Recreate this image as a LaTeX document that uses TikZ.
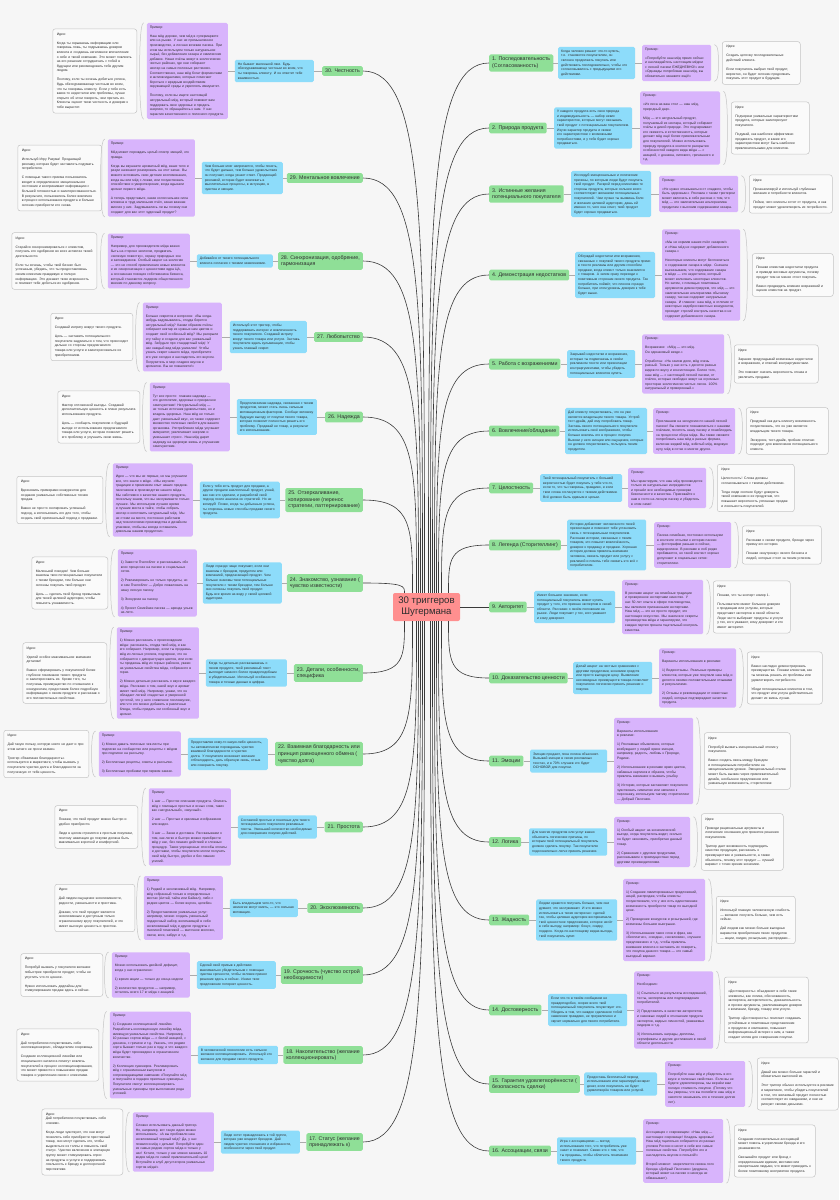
\documentclass[tikz,border=0pt]{standalone}
\usepackage{fontspec}
\setmainfont{Liberation Sans}
\usetikzlibrary{calc}
\definecolor{paper}{HTML}{F6F6F6}
\definecolor{ink}{HTML}{2E2E2E}
\definecolor{trunkink}{HTML}{3A3A3A}
\definecolor{linkgray}{HTML}{ABABAB}
\definecolor{hubred}{HTML}{FF8F8F}
\definecolor{topicgreen}{HTML}{8FDF97}
\definecolor{descblue}{HTML}{8DDCFA}
\definecolor{exviolet}{HTML}{D8B4FC}
\definecolor{ideafill}{HTML}{FAFAFA}
\definecolor{ideaedge}{HTML}{C4C4C4}
\newcommand{\RightX}{489}
\newcommand{\LeftX}{363}
\newcommand{\gapline}{\\[4.4pt]}

\begin{document}
\begin{tikzpicture}[
    x=1pt, y=-1pt, ink,
    font=\fontsize{3.4}{4.6}\selectfont,
    trunk/.style={line width=0.6pt, draw=trunkink},
    link/.style={line width=1pt, draw=linkgray},
    brk/.style={line width=0.5pt, draw=ideaedge},
    hub/.style={fill=hubred, rounded corners=2pt, minimum width=67pt, minimum height=28pt, inner sep=2pt, align=center, font=\fontsize{9.6}{11}\selectfont},
    topic/.style={fill=topicgreen, rounded corners=1.5pt, inner sep=3pt, align=left, font=\fontsize{5.3}{6.6}\selectfont},
    desc/.style={fill=descblue, rounded corners=1.5pt, inner sep=3pt, align=left, text width=#1pt},
    example/.style={fill=exviolet, rounded corners=1.5pt, inner sep=3pt, align=left, text width=#1pt},
    idea/.style={draw=ideaedge, line width=0.5pt, fill=ideafill, rounded corners=2.5pt, inner sep=4pt, align=left, text width=#1pt},
  ]
\useasboundingbox[fill=paper] (0,0) rectangle (839,1200);

% --- Centre ---------------------------------------------------------------------
\node[hub] (root) at (426.5, 607) {30 триггеров\\Шугермана};

% --- Right side: 1-16 -------------------------------------------------------------
\node[topic, anchor=west] (top1) at (\RightX, 63) {1. Последовательность\\(Согласованность)};
\node[desc=71, anchor=west] (des1) at (558, 63) {Когда человек решает что-то купить, т.е. становится покупателем, он склонен продолжать покупать или действовать последовательно, чтобы это согласовывалось с предыдущими его действиями.};
\node[example=63, anchor=west] (ex1) at (642, 63) {Пример:\gapline «Попробуйте наш мёд прямо сейчас и наслаждайтесь настоящим мёдом с лесной пасеки ЕЖЕДНЕВНО!» или «Однажды попробовав наш мёд, вы обязательно закажете ещё!»};
\node[idea=70, anchor=west] (idea1) at (722, 63) {Идея:\gapline Создать цепочку последовательных действий клиента.\gapline Если покупатель выбрал твой продукт, вероятно, он будет склонен продолжать покупать этот продукт в будущем.};

\node[topic, anchor=west] (top2) at (\RightX, 128) {2. Природа продукта};
\node[desc=72, anchor=west] (des2) at (554, 128) {У каждого продукта есть своя природа и индивидуальность — набор неких характеристик, которые могут связывать твой продукт с потенциальным покупателем. Изучи характер продукта и свяжи его характеристики с возможными потребностями, и у тебя будет хорошо продаваться.};
\node[example=74, anchor=west] (ex2) at (640, 128) {Пример:\gapline «Из леса на ваш стол — наш мёд, природный дар».\gapline Мёд — это натуральный продукт, получаемый из нектара, который собирают пчёлы в дикой природе. Это подчеркивает его свежесть и естественность, которые делают мёд ещё более привлекательным для покупателей. Можно использовать природу продукта в контексте раскрытия особенностей каждого вида мёда — с акацией, с донника, липового, гречишного и т.д.};
\node[idea=70, anchor=west] (idea2) at (731, 128) {Идея:\gapline Подчеркни уникальные характеристики продукта, которые заинтересуют покупателя.\gapline Подумай, как наиболее эффективно продвигать продукт, и какие его характеристики могут быть наиболее привлекательными для клиентов.};

\node[topic, anchor=west] (top3) at (\RightX, 194) {3. Истинные желания\\потенциального покупателя};
\node[desc=74, anchor=west] (des3) at (571, 194) {Исследуй эмоциональные и логические причины, по которым люди будут покупать твой продукт. Раскрой перед клиентами те стороны продукта, которые сильнее всего соответствуют желаниям потенциальных покупателей. Чем лучше ты выявишь боли и желания целевой аудитории, дашь ей именно то, чего она хочет, твой продукт будет хорошо продаваться.};
\node[example=73, anchor=west] (ex3) at (659, 194) {Пример:\gapline «Не нужно отказываться от сладкого, чтобы быть здоровым.» Реклама с таким триггером может включать в себя рассказ о том, что мёд — это замечательная альтернатива продуктам с высоким содержанием сахара.};
\node[idea=75, anchor=west] (idea3) at (749, 194) {Идея:\gapline Проанализируй и используй глубинные желания и потребности клиентов.\gapline Пойми, чего клиенты хотят от продукта, и как продукт может удовлетворить их потребности.};

\node[topic, anchor=west] (top4) at (\RightX, 275) {4. Демонстрация недостатков};
\node[desc=74, anchor=west] (des4) at (575, 275) {Обсуждай недостатки или возражения, связанные с покупкой твоего продукта прямо в тексте рекламы или другим способом продажи, когда клиент только знакомится с товаром. А затем сразу переходи к позитивным сторонам своего продукта. Так потребитель поймёт, что плюсов гораздо больше, при этом уровень доверия к тебе будет выше.};
\node[example=72, anchor=west] (ex4) at (662, 275) {Пример:\gapline «Мы не кормим наших пчёл сахаром!» и «Наш мёд не содержит добавленного сахара.»\gapline Некоторые клиенты могут беспокоиться о содержании сахара в мёде. Сначала высказываем, что содержание сахара в мёде — это недостаток, который может волновать некоторых клиентов. Но затем, с помощью позитивных аргументов демонстрируем, что мёд — это замечательная альтернатива обычному сахару, так как содержит натуральные сахара. И главное: наш мёд, в отличие от некоторых недобросовестных конкурентов, проходит строгий контроль качества и не содержит добавленного сахара.};
\node[idea=73, anchor=west] (idea4) at (752, 275) {Идея:\gapline Покажи клиентам недостатки продукта и приведи весомые аргументы, почему продукт тем не менее стоит покупать.\gapline Важно предвидеть влияние возражений и оценок клиентов на продукт.};

\node[topic, anchor=west] (top5) at (\RightX, 364) {5. Работа с возражениями};
\node[desc=62, anchor=west] (des5) at (567, 364) {Закрывай недостатки и возражения, которые ты подмечаешь в своём рекламном тексте или презентации контраргументами, чтобы убедить потенциальных клиентов купить.};
\node[example=76, anchor=west] (ex5) at (642, 364) {Пример:\gapline Возражение: «Мёд — это мёд.\\Он одинаковый везде.»\gapline Отработка: «На самом деле, мёд очень разный. Только у нас есть с десяток разных видов по вкусу и консистенции. Более того, наш мёд — с настоящей лесной пасеки, от пчёлок, которые свободно живут на огромных просторах экологически чистых лесов. 100\% натуральный и проверенный.»};
\node[idea=76, anchor=west] (idea5) at (734, 364) {Идея:\gapline Заранее предугадывай возможные недостатки и возражения, и отвечай контраргументами.\gapline Это поможет снизить вероятность отказа и увеличить продажи.};

\node[topic, anchor=west] (top6) at (\RightX, 431) {6. Вовлечение/обладание};
\node[desc=76, anchor=west] (des6) at (565, 431) {Дай клиенту почувствовать, что он уже является владельцем твоего товара. Устрой тест-драйв, дай ему попробовать товар. Заставь своего потенциального покупателя использовать своё воображение, чтобы больше вовлечь его в процесс покупки. Вызови у него эмоции или ощущения, которые он должен почувствовать, пользуясь твоим продуктом.};
\node[example=76, anchor=west] (ex6) at (653, 431) {Пример:\gapline Приглашаем на экскурсию по нашей лесной пасеке! Вы сможете познакомиться с нашими пчёлами, посетить нашу пасеку и понаблюдать за процессом сбора мёда. Вы также сможете попробовать наш мёд в разных формах, включая жидкий мёд, взбитый мёд, медовую нугу, мёд в сотах и многое другое.};
\node[idea=74, anchor=west] (idea6) at (746, 431) {Идея:\gapline Придумай как дать клиенту возможность почувствовать, что он уже является владельцем твоего товара.\gapline Экскурсия, тест-драйв, пробник отлично подходят для вовлечения потенциального клиента.};

\node[topic, anchor=west] (top7) at (\RightX, 488) {7. Целостность};
\node[desc=76, anchor=west] (des7) at (540, 488) {Твой потенциальный покупатель с большей вероятностью будет покупать у тебя что-то, если то, что ты говоришь, правдиво, и если твои слова согласуются с твоими действиями. Всё должно быть единым и целым.};
\node[example=72, anchor=west] (ex7) at (628, 488) {Пример:\gapline Мы гарантируем, что наш мёд производится только из натуральных ингредиентов и прошёл все необходимые проверки безопасности и качества. Приезжайте к нам в гости на лесную пасеку и убедитесь в этом сами!};
\node[idea=69, anchor=west] (idea7) at (717, 488) {Идея:\gapline Целостность! Слова должны согласовываться с твоими действиями.\gapline Тогда люди охотнее будут доверять твоей компании и ее продуктам, что повышает вероятность успешных продаж и лояльность покупателей.};

\node[topic, anchor=west] (top8) at (\RightX, 545) {8. Легенда (Сторителлинг)};
\node[desc=73, anchor=west] (des8) at (567, 545) {Истории добавляют человечности твоей презентации и помогают тебе установить связь с потенциальным покупателем. Расскажи истории, связанные с твоим товаром, это повысит вовлечённость, доверие к продавцу и продажи. Хорошая история должна привлечь внимание человека, связать продукт или услугу с рекламой и помочь тебе связать это всё с потребителем.};
\node[example=71, anchor=west] (ex8) at (654, 545) {Пример:\gapline Пасека семейная, постоянно используем в контенте отсылки к истории пасеки — фотографии раньше и сейчас, видеоролики. В рекламе в лоб редко пробивается, но такой контент хорошо допускают в социальных сетях: сторителлинг.};
\node[idea=71, anchor=west] (idea8) at (742, 545) {Идея:\gapline Расскажи о своем продукте, бренде через призму его истории.\gapline Покажи «внутрянку» своего бизнеса и людей, которые стоят за твоим успехом.};

\node[topic, anchor=west] (top9) at (\RightX, 607) {9. Авторитет};
\node[desc=75, anchor=west] (des9) at (534, 607) {Имеет большое значение, если потенциальный покупатель может купить продукт у того, кто признан экспертом в своей области. Расскажи о своём положении на рынке. Люди покупают у тех, кого уважают и кому доверяют.};
\node[example=75, anchor=west] (ex9) at (622, 607) {Пример:\gapline В рекламе акцент на семейные традиции и проверенное экспертами качество. У нас 50 лет опыта в сфере пчеловодства, мы являемся признанными экспертами. Наш мёд — это не просто продукт, это настоящее искусство. Мы знаем все секреты производства мёда и гарантируем, что каждая партия прошла тщательный контроль качества.};
\node[idea=69, anchor=west] (idea9) at (713, 607) {Идея:\gapline Покажи, что ты эксперт номер 1.\gapline Пользователи имеют большое доверие к продавцам или услугам, которые представят экспертов в своей области. Люди часто выбирают продукты и услуги у тех, кого уважают, кому доверяют и кто имеет авторитет.};

\node[topic, anchor=west] (top10) at (\RightX, 678) {10. Доказательство ценности};
\node[desc=73, anchor=west] (des10) at (573, 678) {Делай акцент на честных сравнениях с другими продуктами, экономии средств или просто выгодную цену. Выявление неочевидных преимуществ товара позволяет покупателю логически принять решение о покупке.};
\node[example=71, anchor=west] (ex10) at (659, 678) {Пример:\gapline Варианты использования в рекламе:\gapline 1) Видеоотзывы. Реальные примеры клиентов, которые уже покупали наш мёд и делятся своими положительными отзывами и результатами.\gapline 2) Отзывы и рекомендации от известных людей, которые подтверждают качество продукта.};
\node[idea=67, anchor=west] (idea10) at (747, 678) {Идея:\gapline Важно наглядно демонстрировать преимущества. Покажи клиентам, как ты можешь решать их проблемы или удовлетворять потребности.\gapline Убеди потенциальных клиентов в том, что продукт или услуга действительно делают их жизнь лучше.};

\node[topic, anchor=west] (top11) at (\RightX, 761) {11. Эмоции};
\node[desc=71, anchor=west] (des11) at (530, 761) {Эмоции продают, пока логика объясняет. Вызывай эмоции в своих рекламных текстах, и в 70\% случаев это будет ОСНОВОЙ для покупки.};
\node[example=73, anchor=west] (ex11) at (614, 761) {Пример:\gapline Варианты использования\\в рекламе:\gapline 1) Рекламные объявления, которые возбуждают у людей яркие эмоции, например, радость, любовь к Природе, Родине.\gapline 2) Использование в рекламе ярких цветов, забавных картинок и образов, чтобы привлечь внимание и вызвать улыбку.\gapline 3) Истории, которые заставляют покупателя чувствовать симпатию или эмпатию к персонажу, используем тактику сторителлинг — Добрый Пасечник.};
\node[idea=78, anchor=west] (idea11) at (704, 761) {Идея:\gapline Попробуй вызвать эмоциональный отклик у покупателя.\gapline Важно создать связь между брендом и потенциальным потребителем на эмоциональном уровне. Эмоциональный отклик может быть вызван через привлекательный дизайн, необычное предложение или уникальную возможность, сторителлинг.};

\node[topic, anchor=west] (top12) at (\RightX, 842) {12. Логика};
\node[desc=72, anchor=west] (des12) at (529, 842) {Для многих продуктов или услуг важно объяснить логические причины, по которым твой потенциальный покупатель должен сделать покупку. Так покупателю подсознательно легче принять решение.};
\node[example=70, anchor=west] (ex12) at (614, 842) {Пример:\gapline 1) Особый акцент на экономической выгоде, когда покупатель видит, сколько он будет экономить, приобретая данный товар.\gapline 2) Сравнение с другими продуктами, рассказываем о преимуществах перед другими производителями.};
\node[idea=74, anchor=west] (idea12) at (701, 842) {Идея:\gapline Приводи рациональные аргументы и логические основания для принятия решения покупателем.\gapline Триггер дает возможность подтвердить качество продукции, рассказать о преимуществах и уникальности, а также объяснить, почему этот продукт — лучший вариант с точки зрения экономии.};

\node[topic, anchor=west] (top13) at (\RightX, 920) {13. Жадность};
\node[desc=75, anchor=west] (des13) at (536, 920) {Людям нравится получать больше, чем они думают, что заслуживают. И это можно использовать в твоих интересах: сделай так, чтобы целевая аудитория воспринимала твоё ценностное предложение, которое несёт в себе выгоду, например: бонус, скидку, подарок. Когда по-настоящему видна выгода, твой покупатель купит.};
\node[example=76, anchor=west] (ex13) at (623, 920) {Пример:\gapline 1) Создание лимитированных предложений, акций, распродаж, чтобы клиенты почувствовали, что у них есть единственная возможность приобрести товар по выгодной цене.\gapline 2) Проведение конкурсов и розыгрышей, где возможны большие выигрыши.\gapline 3) Использование таких слов и фраз, как «бесплатно», «скидка», «эксклюзив», «лучшее предложение» и т.д., чтобы привлечь внимание клиента и заставить их поверить, что покупка данного товара — это самый выгодный вариант.};
\node[idea=71, anchor=west] (idea13) at (716, 920) {Идея:\gapline Используй главную человеческую слабость — желание получить больше, чем есть сейчас.\gapline Дай людям как можно больше выгодных вариантов приобретения твоих продуктов — акции, скидки, розыгрыши, распродажи...};

\node[topic, anchor=west] (top14) at (\RightX, 1010) {14. Достоверность};
\node[desc=73, anchor=west] (des14) at (548, 1010) {Если что-то в твоём сообщении не правдоподобно, скорее всего твой потенциальный покупатель почувствует это. Убедись в том, что каждое сделанное тобой заявление правдиво, не преувеличено и звучит нормально для твоего потребителя.};
\node[example=73, anchor=west] (ex14) at (634, 1010) {Пример:\gapline Необходимо:\gapline 1) Ссылаться на результаты исследований, тесты, экспертизы или подтверждения потребителей.\gapline 2) Представлять в качестве авторитетов и знаковых людей в отношении продукта экспертов, видных личностей, уважаемых лидеров и т.д.\gapline 3) Использовать награды, дипломы, сертификаты и другие достижения в своей области деятельности.};
\node[idea=76, anchor=west] (idea14) at (724, 1010) {Идея:\gapline «Достоверность» объединяет в себе такие элементы, как логика, обоснованность, экспертиза, авторитетность, доказательность и прочие аргументы, увеличивающие доверие к компании, бренду, товару или услуге.\gapline Триггер «Достоверность» помогает создавать устойчивые и позитивные представления о продуктах и компаниях, повышает информационный интерес к ним, а также создает мотив для совершения покупки.};

\node[topic, anchor=west] (top15) at (\RightX, 1084) {15. Гарантия удовлетворённости (\\безопасность сделки)};
\node[desc=67, anchor=west] (des15) at (584, 1084) {Предоставь бесплатный период использования или гарантируй возврат денег, если покупатель не будет удовлетворён товаром или услугой.};
\node[example=74, anchor=west] (ex15) at (665, 1084) {Пример:\gapline Попробуйте наш мёд и убедитесь в его вкусе и полезных свойствах. Если вы не будете удовлетворены, мы вернём вам полную стоимость покупки. (Потому что мы уверены, что вы полюбите наш мёд и захотите заказывать его в течение долгих лет).};
\node[idea=73, anchor=west] (idea15) at (757, 1084) {Идея:\gapline Давай как можно больше гарантий и обязательно выполняй их.\gapline Этот триггер обычно используется в рекламе и маркетинге, чтобы убедить покупателей в том, что желаемый продукт полностью соответствует их ожиданиям, и они не рискуют своими деньгами.};

\node[topic, anchor=west] (top16) at (\RightX, 1151) {16. Ассоциации, связи};
\node[desc=73, anchor=west] (des16) at (557, 1151) {Игра с ассоциациями — метод использования того, что потребитель уже знает и понимает. Свяжи это с тем, что ты продаешь, чтобы облегчить понимание твоего продукта.};
\node[example=74, anchor=west] (ex16) at (643, 1151) {Пример:\gapline Ассоциация с сокровищем: «Наш мёд — настоящее сокровище! Кладезь здоровья! Наш мёд тщательно собирается из разных уголков России и несет в себе все самые полезные свойства. Попробуйте его и насладитесь вкусом и пользой!»\gapline Второй момент: закрепляется связка лого бренда «Добрый Пасечник» (дедушка, который живет на пасеке и никогда не обманывает).};
\node[idea=73, anchor=west] (idea16) at (734, 1151) {Идея:\gapline Создание положительных ассоциаций может помочь в укреплении бренда и его узнаваемости.\gapline Связывайте продукт или бренд с определенными идеями, местами или конкретными людьми, что может приводить к более позитивному восприятию продукта.};

% --- Left side: 17-30 -------------------------------------------------------------
\node[topic, anchor=east] (top30) at (\LeftX, 71) {30. Честность};
\node[desc=73, anchor=east] (des30) at (314, 71) {Не бывает маленькой лжи. Будь обескураживающе честным во всем, что ты говоришь клиенту. И он ответит тебе взаимностью.};
\node[example=75, anchor=east] (ex30) at (228, 71) {Пример:\gapline Наш мёд дороже, чем мёд в супермаркете или на рынке. У нас не промышленное производство, а лесная кочевая пасека. При этом мы используем только натуральное сырьё, без добавления сахара и химических добавок. Наши пчёлы живут в экологически чистых районах, где они собирают нектар на самых полезных растениях. Соответственно, наш мёд богат ферментами и антиоксидантами, которые помогают бороться с вредным воздействием окружающей среды и укреплять иммунитет.\gapline Поэтому, если вы ищете настоящий натуральный мёд, который поможет вам поддержать свое здоровье и придать энергию, то обращайтесь к нам. У нас гарантия качественного и полезного продукта.};
\node[idea=76, anchor=east] (idea30) at (137, 71) {Идея:\gapline Когда ты скрываешь информацию или говоришь ложь, ты подрываешь доверие клиента и создаешь негативное впечатление о себе и твоей компании. Это может повлиять на его решение сотрудничать с тобой в будущем или рекомендовать тебя другим людям.\gapline Поэтому, если ты хочешь добиться успеха, будь обескураживающе честным во всем, что ты говоришь клиенту. Если у тебя есть какие-то недостатки или проблемы, лучше открыто об этом говорить, чем прятать их. Клиенты оценят твою честность и доверие к тебе вырастет.};

\node[topic, anchor=east] (top29) at (\LeftX, 178) {29. Ментальное вовлечение};
\node[desc=75, anchor=east] (des29) at (283, 178) {Чем больше мозг напрягается, чтобы понять, что будет дальше, тем больше удовольствия он получает, когда узнает ответ. Продающей рекламой, которая будет вовлекать в мыслительные процессы, в интуицию, в чувства и эмоции.};
\node[example=81, anchor=east] (ex29) at (195, 178) {Пример:\gapline Мёд может порождать целый спектр эмоций, это правда.\gapline Когда вы вкушаете ароматный мёд, ваше тело и разум начинают реагировать на этот запах. Вы можете вспомнить свои детские воспоминания, когда вы ели мёд с ложки, или почувствовать спокойствие и умиротворение, когда вдыхали аромат первого мёда.\gapline А теперь представьте, какая колоссальная сила вложена в труд маленьких пчёл, какая важная миссия у них. Задумывались ли вы почему они создают для вас этот чудесный продукт?};
\node[idea=76, anchor=east] (idea29) at (102, 178) {Идея:\gapline Используй Игру Разума! Продающей рекламу, которая будет заставлять подумать потребителя.\gapline С помощью такого приема пользователь входит в определенное эмоциональное состояние и воспринимает информацию с большей готовностью и заинтересованностью. В результате, пользователь более вовлечен в процесс использования продукта и больше склонен приобрести его снова.};

\node[topic, anchor=east] (top28) at (\LeftX, 261) {28. Синхронизация, одобрение,\\гармонизация};
\node[desc=70, anchor=east] (des28) at (273, 261) {Добивайся от твоего потенциального клиента согласия с твоими заявлениями.};
\node[example=76, anchor=east] (ex28) at (190, 261) {Пример:\gapline Например, для производителя мёда важно быть на стороне экологии, продвигать «зеленую повестку», охрану природных зон и заповедников. Особый акцент на экологию — это не способ привлечения новых клиентов и их синхронизация с ценностями ядра ЦА, а осознанная позиция собственника бизнеса, который становится лидером общественного мнения по данному вопросу.};
\node[idea=77, anchor=east] (idea28) at (97, 261) {Идея:\gapline Старайся синхронизироваться с клиентом, получать его одобрение во всех аспектах твоей деятельности.\gapline Если ты хочешь, чтобы твой бизнес был успешным, убедись, что ты предоставляешь своим клиентам правдивую и полную информацию. Это докажет твою искренность и поможет тебе добиться их одобрения.};

\node[topic, anchor=east] (top27) at (\LeftX, 337) {27. Любопытство};
\node[desc=71, anchor=east] (des27) at (307, 337) {Используй этот триггер, чтобы поддерживать интерес и вовлеченность твоего покупателя. Создавай интригу вокруг твоего товара или услуги. Заставь покупателя ждать кульминации, чтобы узнать главный секрет.};
\node[example=73, anchor=east] (ex27) at (222, 337) {Пример:\gapline Больше секретов и вопросов: «Вы когда-нибудь задумывались, откуда берется натуральный мёд? Каким образом пчёлы собирают нектар из нужных нам цветов и создают свой особенный мёд? Мы раскрыли эту тайну и создали для вас уникальный мёд. Забудьте про стандартный мёд! У нас каждый вид мёда уникален! Чтобы узнать секрет нашего мёда, приобретите его уже сегодня и насладитесь его вкусом. Погрузитесь в мир сладких вкусов и ароматов. Вы не пожалеете!»};
\node[idea=74, anchor=east] (idea27) at (133, 337) {Идея:\gapline Создавай интригу вокруг твоего продукта.\gapline Цель — заставить потенциального покупателя задуматься о том, что происходит дальше со стороны предлагаемого товара или услуги и заинтересоваться их приобретением.};

\node[topic, anchor=east] (top26) at (\LeftX, 417) {26. Надежда};
\node[desc=74, anchor=east] (des26) at (317, 417) {Предполагаемая надежда, связанная с твоим продуктом, может стать очень сильным мотивационным фактором. Сообщи человеку будущую выгоду от покупки твоего товара, которая позволит полностью решить его проблему. Продавай не товар, а результат его использования.};
\node[example=74, anchor=east] (ex26) at (230, 417) {Пример:\gapline Тут все просто: главная надежда — это долголетие, здоровье и прекрасное самочувствие! Натуральный мёд — не только источник удовольствия, но и кладезь здоровья. Наш мёд не только дает уникальный вкус, но также содержит множество полезных свойств для вашего организма. Употребление мёда улучшает иммунитет, увеличивает энергию и уменьшает стресс. Наш мёд дарит надежду на здоровую жизнь и улучшение самочувствия.};
\node[idea=74, anchor=east] (idea26) at (140, 417) {Идея:\gapline Фактор отложенной выгоды. Создавай дополнительную ценность в плане результата использования продукта.\gapline Цель — сообщить покупателю о будущей выгоде от использования предлагаемого товара или услуги, которая позволит решить его проблему и улучшить свою жизнь.};

\node[topic, anchor=east] (top25) at (\LeftX, 500) {25. Отзеркаливание,\\копирование (перенос\\стратегии, паттернирование)};
\node[desc=74, anchor=east] (des25) at (280, 500) {Если у тебя есть продукт для продажи, а другие продали аналогичный продукт, узнай, как они это сделали, и разработай свой подход после анализа их стратегий. Но не копируй! Позже, когда ты добьешься успеха, ты откроешь новые способы продажи своего продукта.};
\node[example=74, anchor=east] (ex25) at (193, 500) {Пример:\gapline Идея — что мы не первые, но мы улучшили все, что знали о мёде. «Мы изучили традиции и применяем опыт наших предков-пасечников в производстве нашего мёда. Мы заботимся о качестве нашего продукта, поскольку знаем, что вы заслуживаете только лучшее. Мы используем лучшее время и лучшие места в тайге, чтобы собрать нектар и изготовить натуральный мёд. Мы не стоим на месте, постоянно работаем над технологиями производства и дизайном упаковки, чтобы вы всегда оставались довольны нашим продуктом».};
\node[idea=78, anchor=east] (idea25) at (103, 500) {Идея:\gapline Вдохновись примерами конкурентов для создания уникальных собственных техник продаж.\gapline Важно не просто скопировать успешный подход, а использовать его для того, чтобы создать свой оригинальный подход к продажам.};

\node[topic, anchor=east] (top24) at (\LeftX, 583) {24. Знакомство, узнавание (\\чувство известности)};
\node[desc=73, anchor=east] (des24) at (282, 583) {Люди гораздо чаще покупают, если они знакомы с брендом, продуктом или компанией, предлагающей продукт. Чем больше знакомы твои потенциальные покупатели с твоим брендом, тем больше они склонны покупать твой продукт. Будь все время на виду у своей целевой аудитории.};
\node[example=73, anchor=east] (ex24) at (197, 583) {Пример:\gapline 1) Завести Пчелоблог и рассказывать обо всех процессах на пасеке в социальных сетях.\gapline 2) Рекламировать не только продукты, но и сам Пчелоблог — Добро пожаловать на нашу лесную пасеку.\gapline 3) Экскурсии на пасеку.\gapline 4) Проект Семейная пасека — аренда ульев на лето.};
\node[idea=68, anchor=east] (idea24) at (108, 583) {Идея:\gapline Маленький поводок! Чем больше знакомы твои потенциальные покупатели с твоим брендом, тем больше они склонны покупать твой продукт.\gapline Цель — сделать твой бренд привычным для твоей целевой аудитории, чтобы повысить узнаваемость.};

\node[topic, anchor=east] (top23) at (\LeftX, 673) {23. Детали, особенности,\\специфика};
\node[desc=75, anchor=east] (des23) at (287, 673) {Когда ты детально рассказываешь о твоем продукте, твой рекламный текст выглядит намного более правдоподобным и убедительным. Используй особенности товара и точные данные в цифрах.};
\node[example=76, anchor=east] (ex23) at (199, 673) {Пример:\gapline 1) Можно рассказать о происхождении мёда: рассказать, откуда твой мёд, и как его собирают. Например, если ты продаешь мёд из лесных уголков, подчеркни, что он собирается с дикорастущих цветов, или если ты продаешь мёд из горных районов, укажи на уникальные свойства мёда, собранного в горах.\gapline 2) Можно детально рассказать о вкусе каждого мёда. Расскажи о том, какой вкус и аромат имеет твой мёд. Например, укажи, что он обладает легкой сладостью и умеренной густотой, что у него сливочное послевкусие, или что его можно добавить в различные блюда, чтобы придать им особенный вкус и аромат.};
\node[idea=76, anchor=east] (idea23) at (107, 673) {Идея:\gapline Уделяй особое максимальное внимание деталям!\gapline Важно сформировать у покупателей более глубокое понимание твоего продукта и заинтересовать их. Кроме того, ты получишь преимущество по отношению к конкурентам, предоставив более подробную информацию о своем продукте и рассказав о его положительных свойствах.};

\node[topic, anchor=east] (top22) at (\LeftX, 754) {22. Взаимная благодарность или\\принцип равноценного обмена (\\чувство долга)};
\node[desc=74, anchor=east] (des22) at (268, 754) {Предоставляя кому-то какую-либо ценность, ты автоматически порождаешь чувство взаимной благодарности и чувство долга. У покупателя возникает желание отблагодарить, дать обратную связь, отзыв или совершить покупку.};
\node[example=76, anchor=east] (ex22) at (181, 754) {Пример:\gapline 1) Можно давать полезные чек-листы при подписке на сообщество или рецепты с мёдом при подписке на рассылку.\gapline 2) Бесплатные рецепты, советы в рассылке.\gapline 3) Бесплатные пробники при первом заказе.};
\node[idea=77, anchor=east] (idea22) at (89, 754) {Идея:\gapline Дай такую пользу, которую никто не дает и при этом ничего не проси взамен.\gapline Триггер «Взаимная благодарность» используется в маркетинге, чтобы вызвать у покупателя чувство долга и благодарности за полученную от тебя ценность.};

\node[topic, anchor=east] (top21) at (\LeftX, 827) {21. Простота};
\node[desc=73, anchor=east] (des21) at (317, 827) {Составляй простые и понятные для твоего потенциального покупателя рекламные тексты. Уменьшай количество необходимых для совершения покупки действий.};
\node[example=76, anchor=east] (ex21) at (231, 827) {Пример:\gapline 1 шаг — Простое описание продукта. Описать мёд с помощью простых и ясных слов, таких как «натуральный», «вкусный».\gapline 2 шаг — Простые и красивые изображения или видео.\gapline 3 шаг — Заказ и доставка. Рассказываем о том, как легко и быстро можно приобрести мёд у нас, без лишних действий и сложных процедур. Такие упрощенные способы оплаты и доставки, чтобы покупатели могли получить свой мёд быстро, удобно и без лишних усилий.};
\node[idea=75, anchor=east] (idea21) at (138, 827) {Идея:\gapline Покажи, что твой продукт можно быстро и удобно приобрести.\gapline Люди в целом стремятся к простым покупкам, поэтому навигация до покупки должна быть максимально короткой и комфортной.};

\node[topic, anchor=east] (top20) at (\LeftX, 908) {20. Эксклюзивность};
\node[desc=62, anchor=east] (des20) at (298, 908) {Быть владельцем чего-то, что немногие могут иметь, — это сильная мотивация.};
\node[example=73, anchor=east] (ex20) at (223, 908) {Пример:\gapline 1) Редкий и эксклюзивный мёд. Например, мёд собранный только в определенных местах (Алтай, тайга или Байкал), либо с редких цветов — более вкусен, целебен.\gapline 2) Предоставление уникальных услуг: например, можно создать уникальный подарочный набор, включающий в себя эксклюзивный мёд и другие продукты с пчелиной тематикой — маточное молочко, свечи, воск, забрус и т.д.};
\node[idea=72, anchor=east] (idea20) at (135, 908) {Идея:\gapline Дай людям ощущение эксклюзивности, редкости, уникальности и престижа.\gapline Докажи, что твой продукт является эксклюзивным и доступным только ограниченному кругу покупателей, и что имеет высокую ценность и престиж.};

\node[topic, anchor=east] (top19) at (\LeftX, 975) {19. Срочность (чувство острой\\необходимости)};
\node[desc=73, anchor=east] (des19) at (276, 975) {Сделай свой призыв к действию максимально убедительным с помощью чувства срочности, чтобы человек принял решение здесь и сейчас. Иначе твое предложение потеряет ценность.};
\node[example=72, anchor=east] (ex19) at (190, 975) {Пример:\gapline Можно использовать двойной дефицит, когда у нас ограничено:\gapline 1) время акции — только до конца недели\gapline 2) количество продуктов — например, осталось всего 17 кг мёда с акацией.};
\node[idea=74, anchor=east] (idea19) at (103, 975) {Идея:\gapline Попробуй вызвать у покупателя желание побыстрее приобрести продукт, чтобы не упустить что-то ценное.\gapline Нужно использовать дедлайны для стимулирования продаж здесь и сейчас.};

\node[topic, anchor=east] (top18) at (\LeftX, 1055) {18. Накопительство (желание\\коллекционировать)};
\node[desc=74, anchor=east] (des18) at (278, 1055) {В человеческой психологии есть сильное желание коллекционировать. Используй это желание для продажи своего продукта.};
\node[example=75, anchor=east] (ex18) at (191, 1055) {Пример:\gapline 1) Создание коллекционной линейки. Разработать коллекционную линейку мёда, имеющую уникальные свойства. Например, 10 разных сортов мёда — с белой акацией, с донника, с гречихи и т.д. Указать, что редкие сорта бывают только раз в году, и что каждого мёда будет произведено в ограниченном количестве.\gapline 2) Коллекция сувениров. Рекламировать мёд с ограниченным выпуском и сопровождающими кампании «Покупайте мёд и получайте в подарок приятные сувениры». Покупатели смогут коллекционировать уникальные сувениры при выполнении ряда условий.};
\node[idea=74, anchor=east] (idea18) at (99, 1055) {Идея:\gapline Дай потребителю почувствовать себя «коллекционером», обладателем сокровища.\gapline Создание коллекционной линейки или специального каталога помогут вовлечь покупателей в процесс коллекционирования, что может привести к повышению продаж товаров и укреплению связи с клиентами.};

\node[topic, anchor=east] (top17) at (\LeftX, 1142) {17. Статус (желание\\принадлежать к)};
\node[desc=73, anchor=east] (des17) at (300, 1142) {Люди хотят принадлежать к той группе, которая уже владеет брендом. Дай людям чувство отношения и избранности, особенности через твой продукт.};
\node[example=75, anchor=east] (ex17) at (214, 1142) {Пример:\gapline Сложно использовать данный триггер. Но, например, вот такую идею можно использовать: «А вы пробовали наш эксклюзивный черный мёд? Да, у нас появился мёд с детьми! Попробуйте один из самых редких сортов мёда и только у нас! Кстати, только у нас можно заказать 10 видов мёда по самой привлекательной цене! Вступайте в клуб дегустаторов уникальных сортов мёда!»};
\node[idea=73, anchor=east] (idea17) at (123, 1142) {Идея:\\Дай потребителю почувствовать себя «своим».\gapline Когда люди чувствуют, что они могут позволить себе приобрести престижный товар, они могут сделать это, чтобы выделиться из толпы и повысить свой статус. Чувство включения в элитарную группу может стимулировать спрос на продукты и услуги и поддерживать лояльность к бренду в долгосрочной перспективе.};

% --- Trunks from the centre -----------------------------------------------------
\foreach \n/\dx in {1/2, 2/4, 3/6, 4/8, 5/10, 6/12, 7/15, 8/22} {
  \coordinate (s) at ([xshift=\dx pt]root.north);
  \coordinate (c) at (s |- top\n.west);
  \draw[trunk] (s) .. controls ($(s)!0.7!(c)$) and (c) .. (top\n.west);
}
\foreach \n/\dx in {10/22, 11/15, 12/12, 13/10, 14/8, 15/6, 16/4} {
  \coordinate (s) at ([xshift=\dx pt]root.south);
  \coordinate (c) at (s |- top\n.west);
  \draw[trunk] (s) .. controls ($(s)!0.7!(c)$) and (c) .. (top\n.west);
}
\foreach \n/\dx in {30/-2, 29/-4, 28/-6, 27/-8, 26/-10, 25/-14, 24/-22} {
  \coordinate (s) at ([xshift=\dx pt]root.north);
  \coordinate (c) at (s |- top\n.east);
  \draw[trunk] (s) .. controls ($(s)!0.7!(c)$) and (c) .. (top\n.east);
}
\foreach \n/\dx in {23/-22, 22/-14, 21/-10, 20/-8, 19/-6, 18/-4, 17/-2} {
  \coordinate (s) at ([xshift=\dx pt]root.south);
  \coordinate (c) at (s |- top\n.east);
  \draw[trunk] (s) .. controls ($(s)!0.7!(c)$) and (c) .. (top\n.east);
}
\draw[trunk] (root.east) -- (top9.west);

% --- Links and brackets -----------------------------------------------------------
\foreach \n in {1,...,16} {
  \draw[link] (top\n.east) -- (des\n.west);
  \draw[link] (des\n.east) -- (ex\n.west);
  \draw[brk] ([xshift=3pt]ex\n.north east) .. controls +(4,0) and +(0,-8) .. ([xshift=7pt]ex\n.east)
             .. controls +(0,8) and +(4,0) .. ([xshift=3pt]ex\n.south east);
}
\foreach \n in {17,...,30} {
  \draw[link] (top\n.west) -- (des\n.east);
  \draw[link] (des\n.west) -- (ex\n.east);
  \draw[brk] ([xshift=-3pt]ex\n.north west) .. controls +(-4,0) and +(0,-8) .. ([xshift=-7pt]ex\n.west)
             .. controls +(0,8) and +(-4,0) .. ([xshift=-3pt]ex\n.south west);
}

\end{tikzpicture}
\end{document}
